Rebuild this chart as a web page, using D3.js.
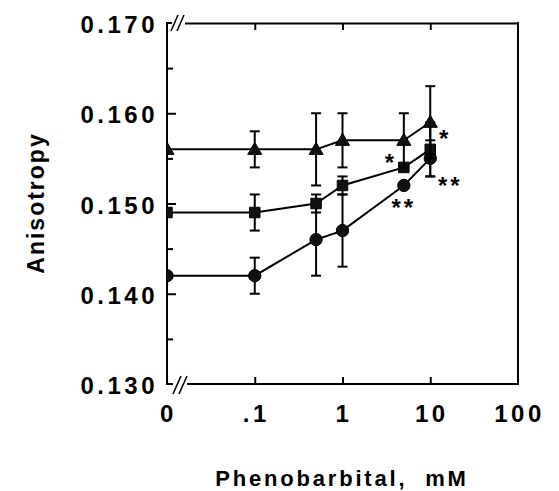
<!DOCTYPE html>
<html><head><meta charset="utf-8">
<script src="https://cdn.jsdelivr.net/npm/d3@7"></script>
<style>
html,body{margin:0;padding:0;background:#fff;}
svg{display:block;}
text{font-family:"Liberation Sans",Arial,Helvetica,sans-serif;font-weight:bold;fill:#000;}
</style>
</head><body>
<svg id="chart" width="559" height="491"></svg>
<script>
// ---- data ----
const doses = [0, 0.1, 0.5, 1, 5, 10];            // Phenobarbital, mM (0 drawn at the axis break)
const triangleVals = [0.156, 0.156, 0.156, 0.157, 0.157, 0.159];
const triangleErr  = [0, 0.002, 0.004, 0.003, 0.003, 0.004];
const squareVals   = [0.149, 0.149, 0.150, 0.152, 0.154, 0.156];
const squareErr    = [0, 0.002, 0.001, 0.001, 0.0005, 0.003];
const circleVals   = [0.142, 0.142, 0.146, 0.147, 0.152, 0.155];
const circleErr    = [0, 0.002, 0.004, 0.004, 0.0005, 0.002];
const xTickVals    = [0.01, 0.1, 1, 10, 100];
const xTickLabels  = ["0", ".1", "1", "10", "100"];
const yTickVals    = [0.130, 0.140, 0.150, 0.160, 0.170];
const yTickLabels  = ["0.130", "0.140", "0.150", "0.160", "0.170"];
const yMinorVals   = [0.135, 0.145, 0.155, 0.165];
const annSeries    = ["square", "circle", "square", "circle"];
const annDose      = [5, 5, 10, 10];
const annText      = ["*", "**", "*", "**"];

// ---- layout ----
const L = 167, R = 518, T = 23, B = 384;
const svg = d3.select("#chart");
const zeroPos = 0.01;
const x = d3.scaleLog().domain([0.01, 100]).range([L, R]);
const xv = d => x(d === 0 ? zeroPos : d);
const y = d3.scaleLinear().domain([0.13, 0.17]).range([B, T]);

// ---- axes ticks (inward) ----
const axL = svg.append("g").attr("transform", `translate(${L},0)`)
  .call(d3.axisLeft(y).tickValues(yTickVals.slice(1, -1)).tickSizeInner(-9).tickSizeOuter(0).tickFormat(""));
const axLm = svg.append("g").attr("transform", `translate(${L},0)`)
  .call(d3.axisLeft(y).tickValues(yMinorVals).tickSizeInner(-6).tickSizeOuter(0).tickFormat(""));
const axB = svg.append("g").attr("transform", `translate(0,${B})`)
  .call(d3.axisBottom(x).tickValues(xTickVals.slice(1, -1)).tickSizeInner(-7).tickSizeOuter(0).tickFormat(""));
const axT = svg.append("g").attr("transform", `translate(0,${T})`)
  .call(d3.axisTop(x).tickValues(xTickVals.slice(1, -1)).tickSizeInner(-7).tickSizeOuter(0).tickFormat(""));
[axL, axLm, axB, axT].forEach(g => {
  g.select(".domain").remove();
  g.selectAll(".tick line").attr("stroke", "#000").attr("stroke-width", 2);
});

// ---- tick labels ----
svg.append("g").selectAll("text").data(yTickVals).join("text")
  .attr("x", L - 9).attr("y", d => y(d) + 10)
  .attr("text-anchor", "end").attr("font-size", 24).attr("letter-spacing", "3.5px")
  .text((d, i) => yTickLabels[i]);
svg.append("g").selectAll("text").data(xTickVals).join("text")
  .attr("x", d => x(d) + 1.5).attr("y", 422)
  .attr("text-anchor", "middle").attr("font-size", 24).attr("letter-spacing", "3.5px")
  .text((d, i) => xTickLabels[i]);

// ---- axis titles ----
svg.append("text").attr("x", 342).attr("y", 486).attr("text-anchor", "middle")
  .attr("font-size", 22).attr("letter-spacing", "2.8px").style("white-space", "pre")
  .text("Phenobarbital,  mM");
svg.append("text").attr("transform", "translate(44,203) rotate(-90)").attr("text-anchor", "middle")
  .attr("font-size", 23).attr("letter-spacing", "2px")
  .text("Anisotropy");

// ---- frame with axis breaks ----
const frame = svg.append("g").attr("stroke", "#000").attr("stroke-width", 2).attr("fill", "none");
frame.append("line").attr("x1", L).attr("x2", L).attr("y1", T - 1).attr("y2", B + 1);
frame.append("line").attr("x1", R).attr("x2", R).attr("y1", T - 1).attr("y2", B + 1);
frame.append("line").attr("x1", L - 1).attr("x2", L + 5).attr("y1", T).attr("y2", T);
frame.append("line").attr("x1", L + 18).attr("x2", R + 1).attr("y1", T + 0.5).attr("y2", T + 0.5);
frame.append("line").attr("x1", L - 1).attr("x2", L + 6).attr("y1", B).attr("y2", B);
frame.append("line").attr("x1", L + 20).attr("x2", R + 1).attr("y1", B).attr("y2", B);
[[L + 4, T + 8, L + 11, T - 8], [L + 10, T + 8, L + 17, T - 8]].forEach(s =>
  frame.append("line").attr("x1", s[0]).attr("y1", s[1]).attr("x2", s[2]).attr("y2", s[3]).attr("stroke-width", 1.6));
[[L + 6, B + 10, L + 14, B - 8], [L + 12, B + 10, L + 20, B - 8]].forEach(s =>
  frame.append("line").attr("x1", s[0]).attr("y1", s[1]).attr("x2", s[2]).attr("y2", s[3]).attr("stroke-width", 1.6));

// ---- series ----
svg.append("clipPath").attr("id", "plotclip").append("rect")
  .attr("x", L).attr("y", T - 20).attr("width", R - L + 20).attr("height", B - T + 40);
const plot = svg.append("g").attr("clip-path", "url(#plotclip)");

const series = [
  {name: "circle", vals: circleVals, err: circleErr, sym: d3.symbolCircle, size: 120},
  {name: "square", vals: squareVals, err: squareErr, sym: d3.symbolSquare, size: 110},
  {name: "triangle", vals: triangleVals, err: triangleErr, sym: d3.symbolTriangle, size: 85}
];
const line = d3.line().x(d => xv(d.x)).y(d => y(d.v));
series.forEach(s => {
  const pts = doses.map((d, i) => ({x: d, v: s.vals[i], e: s.err[i]}));
  const g = plot.append("g");
  g.append("path").datum(pts).attr("d", line).attr("fill", "none").attr("stroke", "#000").attr("stroke-width", 2);
  const eb = g.selectAll("g.eb").data(pts.filter(p => p.e > 0.0006)).join("g").attr("stroke", "#000").attr("stroke-width", 2);
  eb.append("line").attr("x1", p => xv(p.x)).attr("x2", p => xv(p.x)).attr("y1", p => y(p.v - p.e)).attr("y2", p => y(p.v + p.e));
  eb.append("line").attr("x1", p => xv(p.x) - 5).attr("x2", p => xv(p.x) + 5).attr("y1", p => y(p.v - p.e)).attr("y2", p => y(p.v - p.e));
  eb.append("line").attr("x1", p => xv(p.x) - 5).attr("x2", p => xv(p.x) + 5).attr("y1", p => y(p.v + p.e)).attr("y2", p => y(p.v + p.e));
  g.selectAll("path.m").data(pts).join("path").attr("class", "m")
    .attr("d", d3.symbol().type(s.sym).size(s.size))
    .attr("transform", p => `translate(${xv(p.x)},${y(p.v) + (s.name === "triangle" ? 1 : 0)})`)
    .attr("fill", "#111").attr("stroke", "#000").attr("stroke-width", 1);
});

// ---- significance asterisks ----
const lookup = {circle: circleVals, square: squareVals, triangle: triangleVals};
const annOffset = [[-13, 4], [0, 31], [15, -2], [20, 36]];
annText.forEach((t, i) => {
  const v = lookup[annSeries[i]][doses.indexOf(annDose[i])];
  svg.append("text").attr("x", xv(annDose[i]) + annOffset[i][0]).attr("y", y(v) + annOffset[i][1])
    .attr("text-anchor", "middle").attr("font-size", 24).attr("letter-spacing", "3px").text(t);
});
</script>
</body></html>
